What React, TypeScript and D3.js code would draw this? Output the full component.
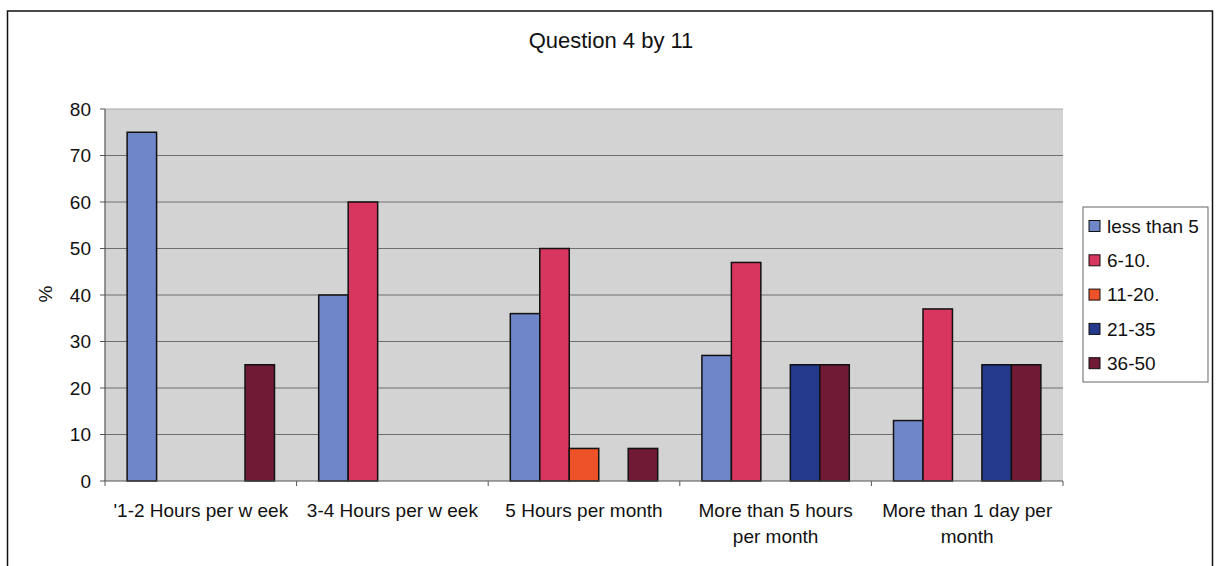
import React from "react";
import * as d3 from "d3";

const categories = [
  "'1-2 Hours per w eek",
  "3-4 Hours per w eek",
  "5 Hours per month",
  "More than 5 hours per month",
  "More than 1 day per month",
];
const categoryLines = [
  ["'1-2 Hours per w eek"],
  ["3-4 Hours per w eek"],
  ["5 Hours per month"],
  ["More than 5 hours", "per month"],
  ["More than 1 day per", "month"],
];
const seriesNames = ["less than 5", "6-10.", "11-20.", "21-35", "36-50"];
const lessThan5 = [75, 40, 36, 27, 13];
const s6to10 = [0, 60, 50, 47, 37];
const s11to20 = [0, 0, 7, 0, 0];
const s21to35 = [0, 0, 0, 25, 25];
const s36to50 = [25, 0, 7, 25, 25];
const seriesValues = [lessThan5, s6to10, s11to20, s21to35, s36to50];
const seriesColors = ["#6f87c9", "#d8365f", "#ee5229", "#24398c", "#711a36"];
const yTicks = [0, 10, 20, 30, 40, 50, 60, 70, 80];
const title = "Question 4 by 11";
const yTitle = "%";

const W = 1216;
const H = 566;
const plot = { left: 105, right: 1063, top: 109, bottom: 481 };
const FONT = "Arial, 'Liberation Sans', Helvetica, sans-serif";
const FS = 19;

export default function App() {
  const x = d3
    .scaleBand<string>()
    .domain(categories)
    .range([plot.left, plot.right])
    .padding(0);
  const xs = d3
    .scaleBand<string>()
    .domain(seriesNames)
    .range([0, x.bandwidth()])
    .paddingInner(0)
    .paddingOuter(0.75);
  const y = d3.scaleLinear().domain([0, 80]).range([plot.bottom, plot.top]);

  const boundaries = categories.map((c) => x(c)!).concat([plot.right]);

  return (
    <svg
      width={W}
      height={H}
      style={{ position: "absolute", left: 0, top: 0, background: "#fff" }}
      fontFamily={FONT}
    >
      <rect x={0} y={0} width={W} height={H} fill="#fff" />
      {/* outer frame */}
      <rect
        x={7.5}
        y={11}
        width={1205}
        height={H + 10}
        fill="none"
        stroke="#111"
        strokeWidth={1.5}
      />
      <text x={611} y={48} textAnchor="middle" fontSize={22} fill="#111">
        {title}
      </text>

      {/* plot area */}
      <rect
        x={plot.left}
        y={plot.top}
        width={plot.right - plot.left}
        height={plot.bottom - plot.top}
        fill="#d3d3d3"
      />
      {yTicks
        .filter((t) => t > 0)
        .map((t) => (
          <line
            key={"g" + t}
            x1={plot.left}
            x2={plot.right}
            y1={y(t)}
            y2={y(t)}
            stroke={t === 80 ? "#a8a8a8" : "#6e6e6e"}
            strokeWidth={1}
          />
        ))}

      {/* bars */}
      {seriesValues.map((vals, si) =>
        vals.map((v, ci) =>
          v > 0 ? (
            <rect
              key={si + "-" + ci}
              x={x(categories[ci])! + xs(seriesNames[si])!}
              y={y(v)}
              width={xs.bandwidth()}
              height={y(0) - y(v)}
              fill={seriesColors[si]}
              stroke="#111"
              strokeWidth={1.5}
            />
          ) : null
        )
      )}

      {/* axes */}
      <line x1={plot.left} x2={plot.left} y1={plot.top} y2={plot.bottom} stroke="#555" strokeWidth={1.2} />
      <line x1={plot.left} x2={plot.right} y1={plot.bottom} y2={plot.bottom} stroke="#555" strokeWidth={1.2} />
      {yTicks.map((t) => (
        <g key={"yt" + t}>
          <line x1={plot.left - 5} x2={plot.left} y1={y(t)} y2={y(t)} stroke="#555" />
          <text
            x={plot.left - 14}
            y={y(t)}
            dy="0.36em"
            textAnchor="end"
            fontSize={FS}
            fill="#111"
          >
            {t}
          </text>
        </g>
      ))}
      {boundaries.map((b, i) => (
        <line key={"xt" + i} x1={b} x2={b} y1={plot.bottom} y2={plot.bottom + 5} stroke="#555" />
      ))}
      {categoryLines.map((lines, ci) => (
        <text
          key={"xl" + ci}
          x={x(categories[ci])! + x.bandwidth() / 2}
          y={517}
          textAnchor="middle"
          fontSize={FS}
          fill="#111"
        >
          {lines.map((l, li) => (
            <tspan key={li} x={x(categories[ci])! + x.bandwidth() / 2} dy={li === 0 ? 0 : 26}>
              {l}
            </tspan>
          ))}
        </text>
      ))}
      <text
        transform={`translate(52, 294) rotate(-90)`}
        textAnchor="middle"
        fontSize={FS}
        fill="#111"
      >
        {yTitle}
      </text>

      {/* legend */}
      <rect x={1083} y={207} width={125} height={175} fill="#fff" stroke="#666" strokeWidth={1} />
      {seriesNames.map((s, i) => {
        const cy = 226 + i * 34.3;
        return (
          <g key={"lg" + i}>
            <rect x={1089} y={cy - 5.5} width={11} height={11} fill={seriesColors[i]} stroke="#111" strokeWidth={1} />
            <text x={1107} y={cy} dy="0.36em" fontSize={FS} fill="#111">
              {s}
            </text>
          </g>
        );
      })}
    </svg>
  );
}
